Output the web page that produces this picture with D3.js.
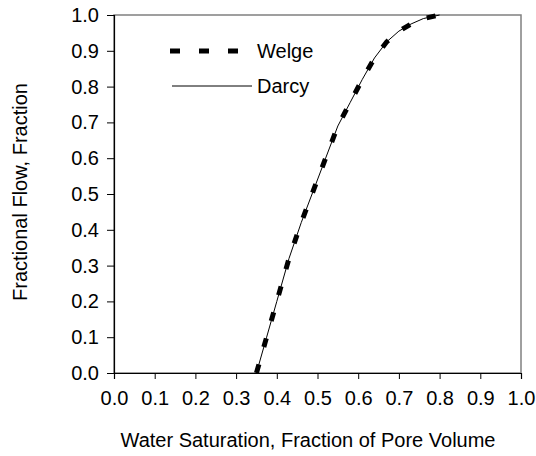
<!DOCTYPE html>
<html>
<head>
<meta charset="utf-8">
<script src="https://cdn.jsdelivr.net/npm/d3@7"></script>
<style>
  body { margin: 0; background: #fff; }
  text { font-family: "Liberation Sans", Arial, sans-serif; fill: #000; }
</style>
</head>
<body>
<div class="chartContainer"></div>
<script>
// water saturation vs fractional flow
var darcySw = [0.35, 0.375, 0.40, 0.43, 0.46, 0.49, 0.52, 0.55, 0.58, 0.61, 0.64, 0.67, 0.70, 0.73, 0.76, 0.80];
var darcyFw = [0.0, 0.10, 0.20, 0.32, 0.42, 0.51, 0.60, 0.69, 0.755, 0.82, 0.88, 0.925, 0.955, 0.975, 0.99, 1.0];
var welgeSw = [0.35, 0.375, 0.40, 0.43, 0.46, 0.49, 0.52, 0.55, 0.58, 0.61, 0.64, 0.67, 0.70, 0.73, 0.76, 0.80];
var welgeFw = [0.0, 0.10, 0.20, 0.32, 0.42, 0.51, 0.60, 0.69, 0.755, 0.82, 0.88, 0.925, 0.955, 0.975, 0.99, 1.0];
var xTicks = [0.0, 0.1, 0.2, 0.3, 0.4, 0.5, 0.6, 0.7, 0.8, 0.9, 1.0];
var yTicks = [0.0, 0.1, 0.2, 0.3, 0.4, 0.5, 0.6, 0.7, 0.8, 0.9, 1.0];

var w = 536,
    h = 456,
    margin = {top: 15, right: 15, bottom: 83, left: 114};

var svg = d3.select(".chartContainer")
    .append("svg")
    .attr("width", w)
    .attr("height", h);

var x = d3.scaleLinear().domain([0, 1]).range([margin.left, w - margin.right]);
var y = d3.scaleLinear().domain([0, 1]).range([h - margin.bottom, margin.top]);

// plot border (top/right gray)
svg.append("rect")
    .attr("x", x(0))
    .attr("y", y(1))
    .attr("width", x(1) - x(0))
    .attr("height", y(0) - y(1))
    .attr("fill", "none")
    .attr("stroke", "#808080")
    .attr("stroke-width", 1.5);

var xAxis = svg.append("g")
    .attr("transform", "translate(0," + y(0) + ")")
    .call(d3.axisBottom(x).tickValues(xTicks).tickFormat(d3.format(".1f")).tickSize(6).tickPadding(12));

var yAxis = svg.append("g")
    .attr("transform", "translate(" + x(0) + ",0)")
    .call(d3.axisLeft(y).tickValues(yTicks).tickFormat(d3.format(".1f")).tickSize(7).tickPadding(8));

[xAxis, yAxis].forEach(function (a) {
    a.selectAll("path").attr("stroke", "#000").attr("stroke-width", 1.2);
    a.selectAll("line").attr("stroke", "#000");
    a.selectAll("text").attr("font-size", 20).attr("font-family", "Liberation Sans, Arial, sans-serif");
});

var line = d3.line()
    .x(function (d) { return x(d[0]); })
    .y(function (d) { return y(d[1]); });

svg.append("path")
    .datum(welgeSw.map(function (s, i) { return [s, welgeFw[i]]; }))
    .attr("d", line)
    .attr("fill", "none")
    .attr("stroke", "#000")
    .attr("stroke-width", 5)
    .attr("stroke-dasharray", "9,18");

svg.append("path")
    .datum(darcySw.map(function (s, i) { return [s, darcyFw[i]]; }))
    .attr("d", line)
    .attr("fill", "none")
    .attr("stroke", "#000")
    .attr("stroke-width", 1);

// legend
svg.append("line")
    .attr("x1", 170).attr("x2", 238)
    .attr("y1", 51).attr("y2", 51)
    .attr("stroke", "#000")
    .attr("stroke-width", 5)
    .attr("stroke-dasharray", "10,19");
svg.append("text")
    .attr("x", 257).attr("y", 51).attr("dy", "0.35em")
    .attr("font-size", 20)
    .text("Welge");

svg.append("line")
    .attr("x1", 172).attr("x2", 252)
    .attr("y1", 86).attr("y2", 86)
    .attr("stroke", "#000")
    .attr("stroke-width", 1);
svg.append("text")
    .attr("x", 257).attr("y", 86).attr("dy", "0.35em")
    .attr("font-size", 20)
    .text("Darcy");

// axis titles
svg.append("text")
    .attr("x", 308).attr("y", 447)
    .attr("text-anchor", "middle")
    .attr("font-size", 20)
    .text("Water Saturation, Fraction of Pore Volume");

svg.append("text")
    .attr("transform", "translate(27,192) rotate(-90)")
    .attr("text-anchor", "middle")
    .attr("font-size", 20)
    .text("Fractional Flow, Fraction");
</script>
</body>
</html>
